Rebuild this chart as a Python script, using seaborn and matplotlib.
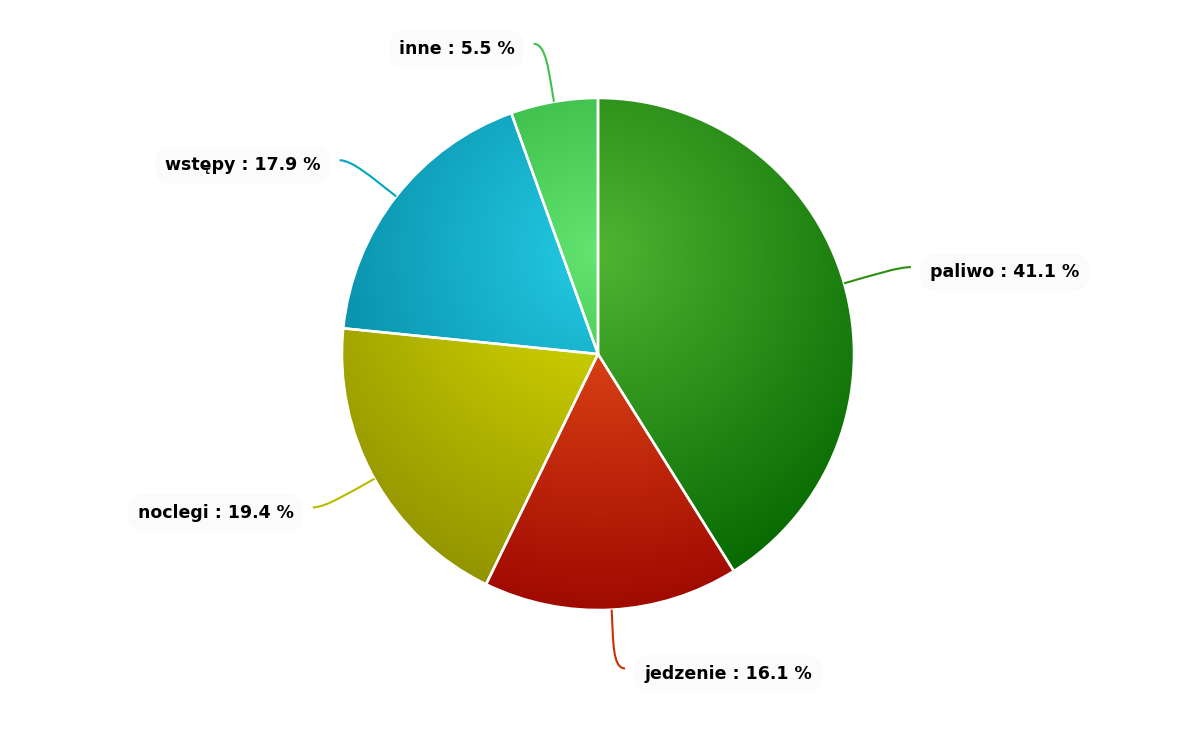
import numpy as np
import matplotlib
matplotlib.use("Agg")
import matplotlib.pyplot as plt
import seaborn as sns
from matplotlib.colors import to_rgb
from matplotlib.path import Path
from matplotlib.patches import PathPatch

# ---- data ----
categories = ["paliwo", "jedzenie", "noclegi", "wstępy", "inne"]
values = [41.1, 16.1, 19.4, 17.9, 5.5]
colors = ["#50B432", "#ED561B", "#DDDF00", "#24CBE5", "#64E572"]

sns.set_theme(style="white")
plt.rcParams["font.family"] = ["DejaVu Sans"]

W, H = 1187, 730
fig = plt.figure(figsize=(W / 100, H / 100), dpi=100)
ax = fig.add_axes([0, 0, 1, 1])
cx_px, cy_px, R_px = 598, 354, 256

wedges, _ = ax.pie(values, startangle=90, counterclock=False, radius=1,
                   center=(0, 0), frame=True,
                   wedgeprops=dict(edgecolor="white", linewidth=1.8))
ax.set_xlim(-cx_px / R_px, (W - cx_px) / R_px)
ax.set_ylim(-(H - cy_px) / R_px, cy_px / R_px)
ax.set_aspect("equal")
ax.axis("off")

# radial gradient (centred at top-ish of the pie, radius 1.4 R)
n = 600
xs = np.linspace(-1, 1, n)
X, Y = np.meshgrid(xs, xs)
D = np.sqrt(X ** 2 + (Y - 0.4) ** 2)
T = np.clip(D / 1.4, 0, 1)[..., None]


def darken(c, a=0.3):
    return np.clip(np.array(to_rgb(c)) - a, 0, 1)


for w, c in zip(wedges, colors):
    base = np.array(to_rgb(c))
    dark = darken(c)
    img = base[None, None, :] * (1 - T) + dark[None, None, :] * T
    w.set_facecolor("none")
    w.set_zorder(3)
    im = ax.imshow(img, extent=(-1, 1, -1, 1), origin="lower",
                   interpolation="bilinear", zorder=2)
    im.set_clip_path(w)

# labels with curved connectors
total = sum(values)
cum = 0
for cat, v, c in zip(categories, values, colors):
    mid = cum + v / 2
    cum += v
    ang = np.deg2rad(90 - 360 * mid / total)
    ux, uy = np.cos(ang), np.sin(ang)
    side = 1 if ux >= 0 else -1
    p0 = (1.0 * ux, 1.0 * uy)
    e = (1.23 * ux + side * 0.04, 1.23 * uy)
    p1 = (1.12 * ux, 1.12 * uy)
    p2 = (e[0] - side * 0.05, e[1])
    path = Path([p0, p1, p2, e],
                [Path.MOVETO, Path.CURVE4, Path.CURVE4, Path.CURVE4])
    lc = np.clip(np.array(to_rgb(c)) - 0.14, 0, 1)
    ax.add_patch(PathPatch(path, facecolor="none", edgecolor=lc,
                           linewidth=1.5, zorder=4))
    tx = e[0] + side * 0.075
    ax.text(tx, e[1] - 0.02, f"{cat} : {v} %", ha="left" if side > 0 else "right",
            va="center", fontsize=12.5, fontweight="bold", color="#000000",
            zorder=5,
            bbox=dict(boxstyle="round,pad=0.55,rounding_size=0.9",
                      facecolor="#fbfbfb", edgecolor="none"))

fig.savefig("out.png", dpi=100, facecolor="white")
